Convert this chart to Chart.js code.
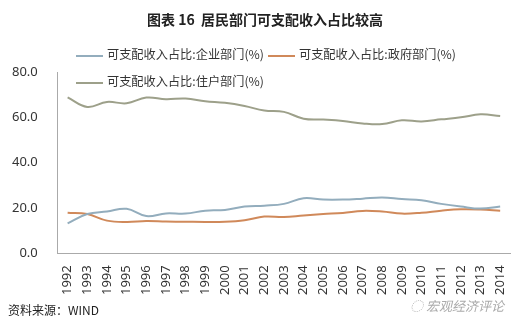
<!DOCTYPE html>
<html>
<head>
<meta charset="utf-8">
<script src="https://cdn.jsdelivr.net/npm/chart.js@4/dist/chart.umd.min.js"></script>
<style>
	body { margin: 0; background: #fff; font-family: "Noto Sans CJK SC", "Noto Sans", sans-serif; }
	#wrap { position: relative; width: 530px; height: 323px; }
	#titulo { position: absolute; top: 9px; left: 0; width: 530px; text-align: center; font-weight: bold; font-size: 14px; color: #222; }
	.ley { position: absolute; font-size: 12.2px; color: #333; white-space: nowrap; }
	.ley span.raya { display: inline-block; width: 27px; height: 2px; vertical-align: middle; margin-right: 4px; }
	#fuente { position: absolute; left: 8px; top: 301px; font-size: 12px; color: #222; }
	#marca { position: absolute; left: 410px; top: 296px; font-size: 13px; color: #aaa; font-style: italic; }
</style>
</head>
<body>
<div id="wrap">
	<canvas id="grafica" width="530" height="323"></canvas>
	<div id="titulo">图表 16&nbsp; 居民部门可支配收入占比较高</div>
	<div id="leyenda"></div>
	<div id="fuente">资料来源：WIND</div>
	<div id="marca">◌ 宏观经济评论</div>
</div>
<script>
var anios = ["1992","1993","1994","1995","1996","1997","1998","1999","2000","2001","2002","2003",
	"2004","2005","2006","2007","2008","2009","2010","2011","2012","2013","2014"];

var empresa = [13.2,17.3,18.4,19.6,16.4,17.6,17.5,18.8,19.1,20.6,21.0,21.8,
	24.3,23.7,23.7,24.1,24.6,23.9,23.4,21.8,20.6,19.7,20.6];

var gobierno = [17.9,17.3,14.4,13.8,14.2,14.0,13.9,13.8,13.9,14.6,16.2,16.0,
	16.7,17.3,17.8,18.7,18.4,17.5,17.9,18.8,19.4,19.3,18.8];

var hogares = [68.8,64.6,66.8,66.2,68.7,68.0,68.3,67.1,66.4,65.0,63.0,62.4,
	59.4,59.0,58.4,57.3,57.0,58.7,58.2,59.1,60.0,61.3,60.6];

var etiquetas = ["可支配收入占比:企业部门(%)", "可支配收入占比:政府部门(%)", "可支配收入占比:住户部门(%)"];
var colores = ["#93adbd", "#d0895a", "#9da08a"];

var series = [empresa, gobierno, hogares];
var datasets = [];
for (var i = 0; i < series.length; i++) {
	datasets.push({
		label: etiquetas[i],
		data: series[i],
		borderColor: colores[i],
		borderWidth: 2,
		pointRadius: 0,
		fill: false,
		tension: 0.4
	});
}

// leyenda en html, alineada a la izquierda como en el original
var posiciones = [[76, 45], [268, 45], [76, 72]];
var leyenda = document.getElementById('leyenda');
for (var j = 0; j < etiquetas.length; j++) {
	var d = document.createElement('div');
	d.className = 'ley';
	d.style.left = posiciones[j][0] + 'px';
	d.style.top = posiciones[j][1] + 'px';
	d.innerHTML = '<span class="raya" style="background:' + colores[j] + '"></span>' + etiquetas[j];
	leyenda.appendChild(d);
}

var contexto = document.getElementById('grafica').getContext('2d');
var grafica = new Chart(contexto, {
	type: 'line',
	data: { labels: anios, datasets: datasets },
	options: {
		responsive: false,
		animation: false,
		layout: { padding: { top: 72, left: 0, right: 20, bottom: 24 } },
		plugins: {
			legend: { display: false },
			title: { display: false },
			tooltip: { enabled: false }
		},
		scales: {
			x: {
				offset: true,
				grid: { display: false },
				border: { display: true, color: '#aaa', width: 1 },
				ticks: {
					maxRotation: 90, minRotation: 90, autoSkip: false,
					color: '#333', padding: 4,
					font: { size: 13, family: '"Noto Sans", sans-serif' }
				}
			},
			y: {
				min: 0, max: 80,
				grid: { display: false },
				border: { display: true, color: '#aaa', width: 1 },
				ticks: {
					stepSize: 20, color: '#333', padding: 12,
					font: { size: 13, family: '"Noto Sans", sans-serif' },
					callback: function (v) { return v.toFixed(1); }
				}
			}
		}
	}
});
</script>
</body>
</html>
